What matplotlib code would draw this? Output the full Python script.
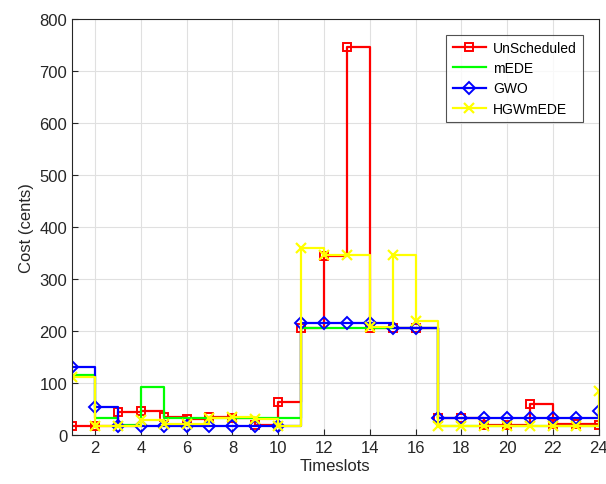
import matplotlib
matplotlib.use("Agg")
import matplotlib.pyplot as plt
import numpy as np

plt.rcParams['font.family'] = ['Liberation Sans', 'DejaVu Sans']

# cost per timeslot (cents)
timeslots = np.arange(1, 25)
unscheduled = [18, 18, 45, 47, 35, 30, 35, 32, 20, 63, 205, 345,
               745, 205, 205, 205, 33, 33, 20, 20, 60, 22, 22, 20]
mede = [115, 33, 20, 93, 33, 33, 33, 33, 33, 33, 205, 205,
        205, 205, 205, 205, 18, 18, 18, 18, 18, 18, 18, 18]
gwo = [130, 53, 18, 18, 18, 18, 18, 18, 18, 18, 215, 215,
       215, 215, 205, 205, 33, 33, 33, 33, 33, 33, 33, 46]
hgwmede = [112, 18, 18, 28, 22, 22, 32, 34, 30, 18, 360, 347,
           347, 207, 347, 220, 17, 17, 17, 17, 17, 17, 17, 85]

fig = plt.figure(figsize=(6.06, 4.85), dpi=100)
ax = fig.add_axes([0.119, 0.101, 0.869, 0.858])

ax.step(timeslots, unscheduled, where='post', color='red', lw=1.6,
        marker='s', ms=5.5, mfc='none', mew=1.4, label='UnScheduled')
ax.step(timeslots, mede, where='post', color='#00ff00', lw=1.6, label='mEDE')
ax.step(timeslots, gwo, where='post', color='blue', lw=1.6,
        marker='D', ms=6, mfc='none', mew=1.4, label='GWO')
ax.step(timeslots, hgwmede, where='post', color='yellow', lw=1.6,
        marker='x', ms=7, mew=1.6, label='HGWmEDE')

ax.set_xlim(1, 24)
ax.set_ylim(0, 800)
ax.set_xticks(np.arange(2, 25, 2))
ax.set_yticks(np.arange(0, 801, 100))
ax.grid(True, color='#e0e0e0', lw=0.8)
ax.set_axisbelow(True)
ax.tick_params(direction='in', labelsize=12, colors='#262626', length=4)
for s in ax.spines.values():
    s.set_color('#262626')
    s.set_linewidth(0.8)

ax.set_xlabel('Timeslots', fontsize=12, color='#262626', labelpad=2)
ax.set_ylabel('Cost (cents)', fontsize=12, color='#262626', labelpad=4)

leg = ax.legend(loc='upper right', bbox_to_anchor=(0.97, 0.962), fontsize=10,
                frameon=True, fancybox=False, edgecolor='#262626',
                borderpad=0.45, borderaxespad=0, handlelength=2.4,
                handletextpad=0.5, labelspacing=0.45)
leg.get_frame().set_linewidth(0.8)

fig.savefig('out.png', dpi=100)
